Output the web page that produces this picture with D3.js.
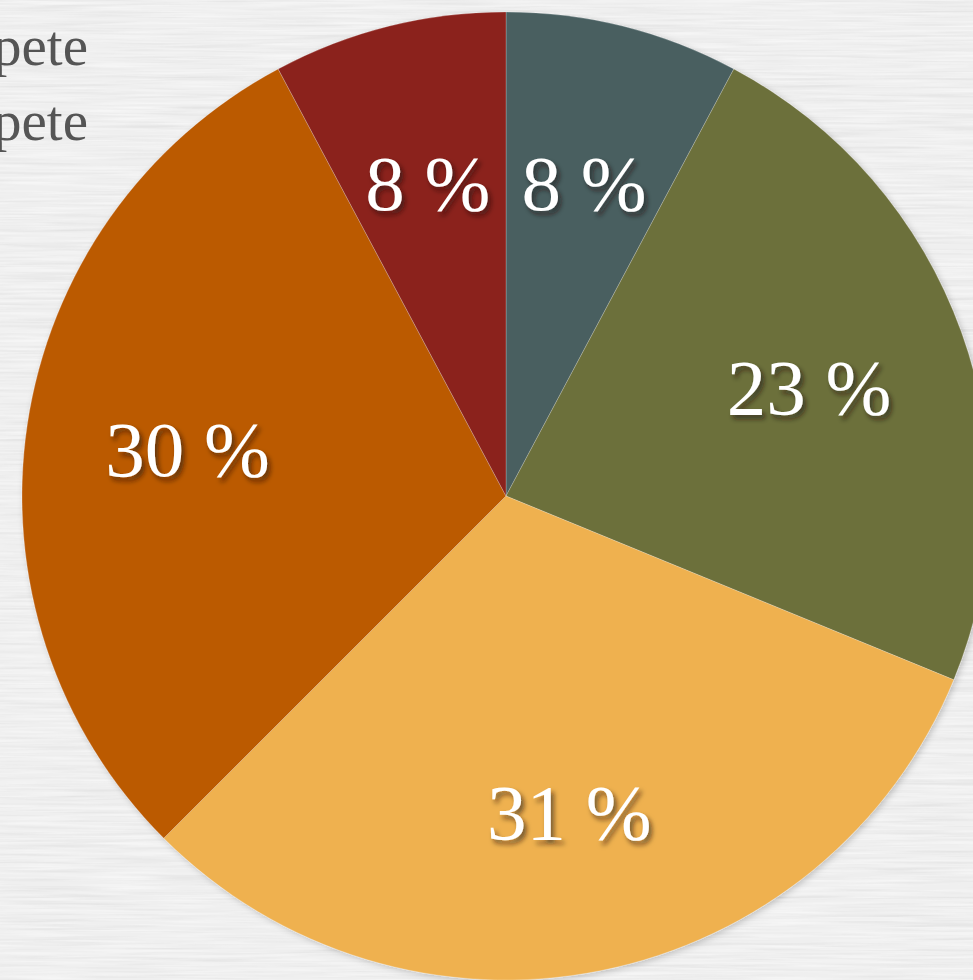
<!DOCTYPE html>
<html>
<head>
<meta charset="utf-8">
<script src="https://cdn.jsdelivr.net/npm/d3@7"></script>
<style>
  html, body { margin: 0; padding: 0; background: #eeeeee; overflow: hidden; }
  svg { display: block; }
  .serif { font-family: "Liberation Serif", "Times New Roman", Times, serif; }
</style>
</head>
<body>
<svg id="chart" width="973" height="980"></svg>
<script>
// ---- data ----
const categories = ["Kategorie 1", "Kategorie 2", "Kategorie 3", "Kategorie 4", "Kategorie 5"];
const values = [7.8, 23.4, 31.3, 29.7, 7.8];
const colors = ["#485F61", "#6C6F3A", "#EFB14F", "#BB5A06", "#8B201A"];
const legendLabels = ["Trompete", "Basstrompete"];

// ---- layout ----
const W = 973, H = 980;
const cx = 506, cy = 496, R = 484, labelR = 322;

const svg = d3.select("#chart");
const defs = svg.append("defs");

// paper texture
const tex = defs.append("filter").attr("id", "paper")
  .attr("x", 0).attr("y", 0).attr("width", "100%").attr("height", "100%");
tex.append("feTurbulence").attr("type", "fractalNoise")
  .attr("baseFrequency", "0.008 0.28").attr("numOctaves", 3).attr("seed", 7).attr("result", "n");
tex.append("feColorMatrix").attr("in", "n").attr("type", "matrix")
  .attr("values", "0 0 0 0 0.62  0 0 0 0 0.62  0 0 0 0 0.62  0.8 0 0 0 -0.36");

const tex2 = defs.append("filter").attr("id", "paper2")
  .attr("x", 0).attr("y", 0).attr("width", "100%").attr("height", "100%");
tex2.append("feTurbulence").attr("type", "fractalNoise")
  .attr("baseFrequency", "0.012 0.4").attr("numOctaves", 2).attr("seed", 3).attr("result", "n");
tex2.append("feColorMatrix").attr("in", "n").attr("type", "matrix")
  .attr("values", "0 0 0 0 1  0 0 0 0 1  0 0 0 0 1  1.1 0 0 0 -0.45");

// pie shadow
const ps = defs.append("filter").attr("id", "pieShadow")
  .attr("x", "-10%").attr("y", "-10%").attr("width", "120%").attr("height", "120%");
ps.append("feDropShadow").attr("dx", 2).attr("dy", 2).attr("stdDeviation", 3)
  .attr("flood-color", "#000").attr("flood-opacity", 0.2);

// text shadow
const ts = defs.append("filter").attr("id", "textShadow")
  .attr("x", "-20%").attr("y", "-30%").attr("width", "140%").attr("height", "160%");
ts.append("feDropShadow").attr("dx", 3).attr("dy", 4).attr("stdDeviation", 2.5)
  .attr("flood-color", "#1a1208").attr("flood-opacity", 0.6);

// background
svg.append("rect").attr("width", W).attr("height", H).attr("fill", "#efefef");
svg.append("rect").attr("width", W).attr("height", H).attr("filter", "url(#paper)");
svg.append("rect").attr("width", W).attr("height", H).attr("filter", "url(#paper2)");

// legend (cut off at left edge, as in the reference)
svg.append("g").selectAll("text").data(legendLabels).join("text")
  .attr("class", "serif")
  .attr("x", 88)
  .attr("y", (d, i) => 65 + i * 75)
  .attr("text-anchor", "end")
  .attr("font-size", 57)
  .attr("fill", "#555555")
  .text(d => d);

// pie
const pie = d3.pie().sort(null).value(d => d);
const arcs = pie(values);
const arc = d3.arc().innerRadius(0).outerRadius(R);
const labelArc = d3.arc().innerRadius(labelR).outerRadius(labelR);

const g = svg.append("g").attr("transform", `translate(${cx},${cy})`);
const slices = g.append("g").attr("filter", "url(#pieShadow)");
slices.selectAll("path").data(arcs).join("path")
  .attr("d", arc)
  .attr("fill", (d, i) => colors[i])
  .attr("stroke", "rgba(255,255,255,0.22)")
  .attr("stroke-width", 1);

g.append("g").selectAll("text").data(arcs).join("text")
  .attr("class", "serif")
  .attr("transform", d => `translate(${labelArc.centroid(d)})`)
  .attr("text-anchor", "middle")
  .attr("dy", "0.34em")
  .attr("font-size", 79)
  .attr("fill", "#ffffff")
  .attr("filter", "url(#textShadow)")
  .text(d => Math.round(d.data) + " %");
</script>
</body>
</html>
